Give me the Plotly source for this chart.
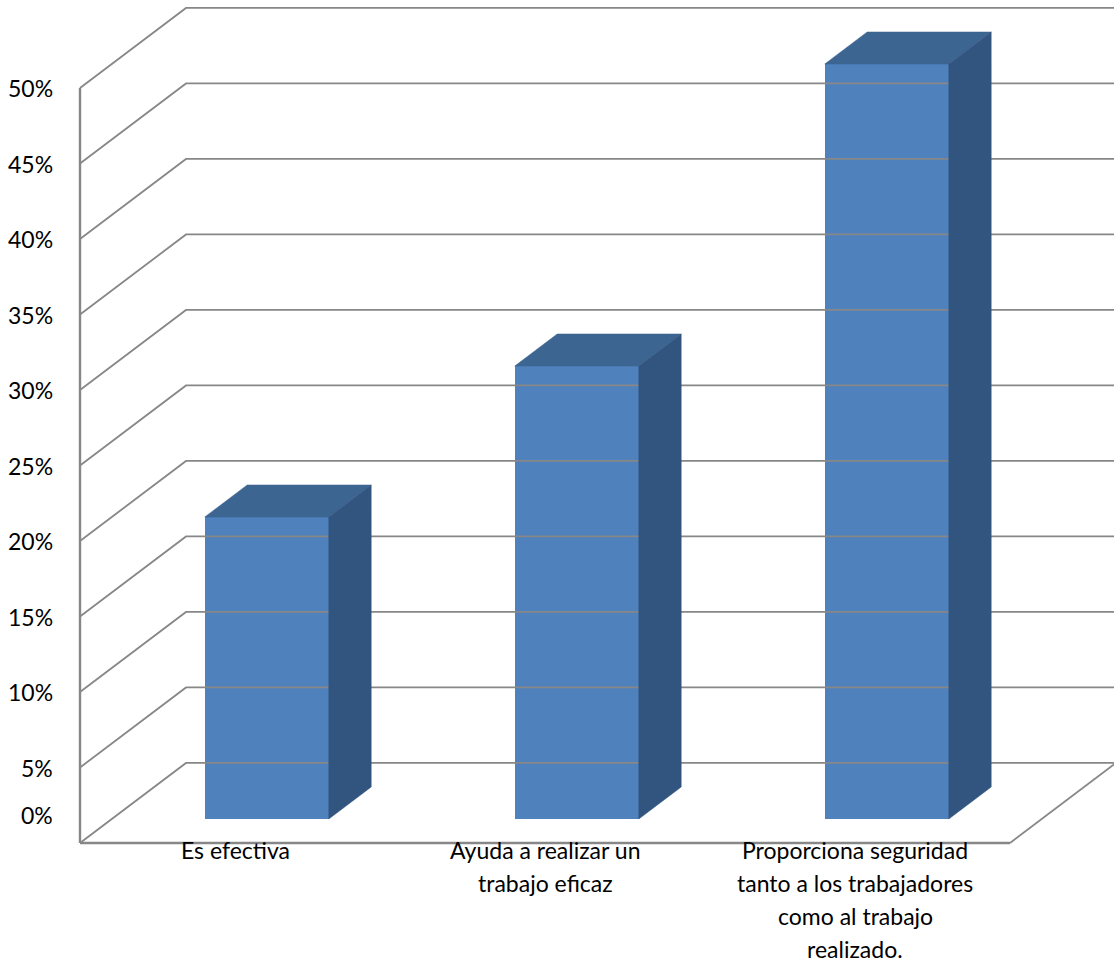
import plotly.graph_objects as go

# Chart data
categories = [
    ["Es efectiva"],
    ["Ayuda a realizar un", "trabajo eficaz"],
    ["Proporciona seguridad", "tanto a los trabajadores", "como al trabajo", "realizado."],
]
values = [20, 30, 50]            # percent
tick_values = [0, 5, 10, 15, 20, 25, 30, 35, 40, 45, 50]
tick_labels = [f"{t}%" for t in tick_values]

# Oblique projection of the depth axis (z in 0..1) onto the x/y data axes
DX = 0.342     # category units per full depth
DY = 5.30      # value units per full depth
BAR_W = 0.40   # bar width in category units
Z_FRONT, Z_BACK = 0.30, 0.70

FRONT = "#4F81BD"
TOP = "#3D6591"
SIDE = "#32557F"
GRID = "#878787"
FONT = "Lato"
FONT_SIZE = 23


def proj(x, v, z):
    return x + z * DX, v + z * DY


fig = go.Figure()

# Walls: side-wall obliques and back-wall horizontals for every tick
n = len(categories)
gx, gy = [], []
for t in tick_values:
    x0, y0 = proj(0, t, 0)
    x1, y1 = proj(0, t, 1)
    x2, y2 = proj(n, t, 1)
    gx += [x0, x1, x2, None]
    gy += [y0, y1, y2, None]
# floor right edge
fx0, fy0 = proj(n, 0, 0)
fx1, fy1 = proj(n, 0, 1)
gx += [fx0, fx1, None]
gy += [fy0, fy1, None]
fig.add_trace(go.Scatter(x=gx, y=gy, mode="lines", line=dict(color=GRID, width=1.8),
                         hoverinfo="skip", showlegend=False))

# Front floor edge and left vertical axis
ax_x = [0, 0, None, 0, n]
ax_y = [tick_values[-1], 0, None, 0, 0]
fig.add_trace(go.Scatter(x=ax_x, y=ax_y, mode="lines", line=dict(color=GRID, width=2.4),
                         hoverinfo="skip", showlegend=False))

# Front faces of the bars
centers = [i + 0.5 for i in range(n)]
fig.add_trace(go.Bar(
    x=[c + Z_FRONT * DX for c in centers],
    y=values,
    base=[Z_FRONT * DY] * n,
    width=[BAR_W] * n,
    marker=dict(color=FRONT, line=dict(width=0)),
    hoverinfo="skip", showlegend=False,
))

# Top and side faces of the bars
for c, v in zip(centers, values):
    l, r = c - BAR_W / 2, c + BAR_W / 2
    top = [proj(l, v, Z_FRONT), proj(r, v, Z_FRONT), proj(r, v, Z_BACK), proj(l, v, Z_BACK), proj(l, v, Z_FRONT)]
    side = [proj(r, 0, Z_FRONT), proj(r, v, Z_FRONT), proj(r, v, Z_BACK), proj(r, 0, Z_BACK), proj(r, 0, Z_FRONT)]
    for pts, col in ((top, TOP), (side, SIDE)):
        fig.add_trace(go.Scatter(
            x=[p[0] for p in pts], y=[p[1] for p in pts],
            mode="lines", fill="toself", fillcolor=col,
            line=dict(color=col, width=0.5),
            hoverinfo="skip", showlegend=False,
        ))

# Value axis labels
annotations = []
for t, lab in zip(tick_values, tick_labels):
    annotations.append(dict(
        x=0, y=t, xref="x", yref="y", text=lab, showarrow=False,
        xanchor="right", yanchor="middle", xshift=-25, yshift=28 if t == 0 else 0,
        font=dict(family=FONT, size=FONT_SIZE, color="#000000"),
    ))

# Category labels (one annotation per line for Excel-like line spacing)
for c, lines in zip(centers, categories):
    for k, line in enumerate(lines):
        annotations.append(dict(
            x=c, y=0, xref="x", yref="y", text=line, showarrow=False,
            xanchor="center", yanchor="top", yshift=9 - 33 * k,
            font=dict(family=FONT, size=FONT_SIZE, color="#000000"),
        ))

PX_X = 310.0   # pixels per category unit
PX_Y = 15.1    # pixels per percent
W, H = 1114, 962
x_min = -80 / PX_X
y_max = 843 / PX_Y

fig.update_layout(
    width=W, height=H,
    margin=dict(l=0, r=0, t=0, b=0),
    paper_bgcolor="white", plot_bgcolor="white",
    xaxis=dict(range=[x_min, x_min + W / PX_X], visible=False, fixedrange=True),
    yaxis=dict(range=[y_max - H / PX_Y, y_max], visible=False, fixedrange=True),
    annotations=annotations,
    bargap=0,
)

fig.write_html("out.html")
